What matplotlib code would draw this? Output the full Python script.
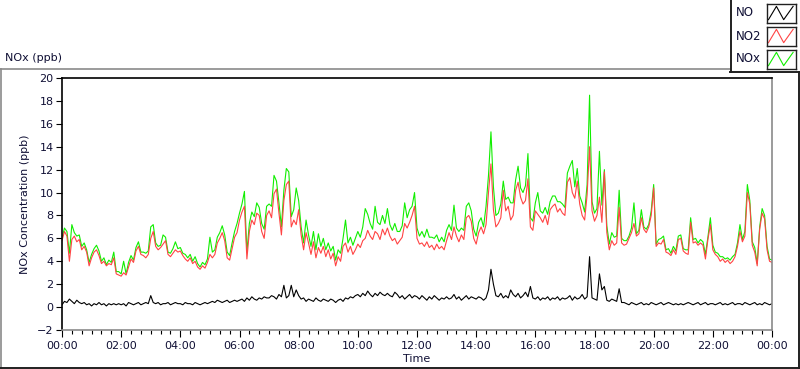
import matplotlib
matplotlib.use("Agg")
import matplotlib.pyplot as plt
from matplotlib.lines import Line2D
from matplotlib.patches import Rectangle
import numpy as np

# ---------------- data (5-minute readings, 00:00 .. 24:00) ----------------
no2 = [
    5.8,6.6,6.2,4.0,5.9,6.2,5.7,5.9,5.0,5.3,4.8,3.6,
    4.3,4.8,5.0,4.5,3.8,4.0,3.6,3.8,3.7,4.3,2.9,2.8,
    2.7,3.0,2.8,3.5,4.2,3.9,4.9,5.3,4.6,4.5,4.3,4.6,
    6.0,6.6,5.3,5.0,5.2,5.5,5.8,4.6,4.4,4.7,5.0,4.8,
    4.9,4.5,4.2,4.0,4.3,3.8,4.0,3.5,3.3,3.6,3.4,3.9,
    4.6,4.3,4.6,5.6,6.0,6.5,5.8,4.3,4.1,5.1,6.1,6.5,
    7.6,8.3,8.8,4.2,6.6,7.6,7.2,8.2,8.0,6.6,6.0,8.0,
    8.4,7.8,9.9,10.3,8.2,6.3,9.3,10.7,11.0,7.0,7.6,7.2,
    8.5,6.3,5.0,6.5,5.6,4.6,5.7,4.3,5.2,4.7,5.3,4.4,
    5.0,4.2,4.7,3.6,4.4,4.0,5.3,5.6,4.8,5.3,4.6,5.0,
    5.5,5.2,5.8,6.0,6.7,6.2,5.9,6.6,6.4,5.9,6.8,6.3,
    6.9,6.2,5.8,6.0,5.5,5.8,6.1,7.3,6.9,7.4,8.0,8.8,
    6.0,5.5,5.6,5.3,5.7,5.2,5.4,5.0,5.5,5.1,5.3,5.0,
    5.8,6.5,5.9,7.0,6.2,5.7,6.3,5.9,7.8,8.0,7.5,6.0,
    5.5,6.5,7.0,6.4,7.2,10.0,12.5,8.5,7.0,7.3,7.8,10.2,
    8.4,8.8,7.6,8.0,10.2,10.9,9.6,9.0,9.3,11.2,7.0,6.7,
    8.4,8.1,7.8,7.4,8.0,7.2,8.5,8.8,9.0,8.3,8.6,8.2,
    8.0,10.9,11.3,10.0,9.5,11.0,9.0,8.0,7.6,9.8,14.0,8.4,
    7.5,8.0,9.6,7.4,11.8,6.5,5.0,5.8,5.4,5.6,8.7,5.6,
    5.4,5.5,6.0,6.5,7.3,6.2,6.4,7.8,6.8,6.5,7.0,8.0,
    10.4,5.3,5.6,5.5,5.9,4.8,4.7,4.5,5.0,4.6,5.9,6.0,
    4.9,4.7,4.6,7.4,5.6,5.7,5.4,5.6,5.4,4.2,5.9,7.2,
    5.0,4.6,4.4,4.0,4.2,3.9,4.1,3.8,4.0,4.4,5.3,6.6,
    5.7,6.2,10.0,9.0,5.4,4.8,3.6,6.8,8.2,7.7,5.0,4.0,
    3.9,
]
nox = [
    6.0,6.9,6.6,4.7,7.2,6.5,6.2,6.3,5.3,5.6,5.0,3.9,
    4.6,5.1,5.4,4.9,4.0,4.3,3.7,4.1,3.9,4.8,3.1,3.1,
    2.9,4.0,2.9,3.9,4.5,4.1,5.2,5.7,4.8,4.8,4.7,4.9,
    7.0,7.2,5.6,5.3,5.4,6.3,6.1,4.8,4.7,5.1,5.7,5.1,
    5.2,4.7,4.6,4.3,4.6,4.0,4.4,3.8,3.5,3.9,3.7,4.2,
    6.1,4.8,5.0,6.1,6.5,7.1,6.3,4.8,4.5,5.6,6.6,7.3,
    8.2,9.0,10.1,4.8,7.3,8.3,7.9,9.1,8.7,7.3,6.8,8.8,
    9.0,8.8,11.5,11.0,9.1,7.0,10.2,12.1,11.8,7.9,8.5,10.4,
    9.3,7.0,5.6,7.6,6.3,5.3,6.6,5.0,6.4,5.3,6.0,5.0,
    5.6,4.9,5.3,4.1,5.0,4.7,6.0,7.6,5.6,6.1,5.4,6.0,
    6.6,6.1,7.0,8.6,8.1,7.3,6.8,8.8,7.4,7.2,8.0,7.3,
    8.6,7.2,6.7,7.3,6.6,6.6,7.1,9.1,7.8,8.5,8.8,10.0,
    6.9,6.2,6.6,6.1,6.8,6.1,6.1,6.0,6.3,5.7,6.1,5.7,
    6.7,7.2,6.7,8.9,6.9,6.6,6.9,6.7,8.8,9.1,8.4,6.8,
    6.2,7.4,7.8,7.0,8.8,11.5,15.3,10.5,8.0,8.2,9.0,11.0,
    9.4,9.6,9.1,9.1,11.1,12.3,10.4,10.0,10.6,13.4,7.8,7.5,
    9.1,10.0,8.4,8.2,8.7,8.1,9.2,9.7,9.7,9.2,9.2,9.0,
    8.7,11.7,12.3,12.8,10.5,12.1,9.7,9.1,8.3,10.7,18.5,9.2,
    8.2,8.6,13.6,8.9,12.0,7.1,5.5,6.5,6.1,6.2,10.2,6.0,
    5.8,5.8,6.2,6.9,9.1,6.4,6.7,8.5,7.0,6.8,7.2,8.4,
    10.7,5.5,5.9,6.0,6.2,5.0,5.1,4.7,5.3,4.9,6.2,6.3,
    5.1,5.0,5.0,7.8,5.9,6.0,5.6,5.9,5.7,4.6,6.1,7.8,
    5.4,4.8,4.7,4.4,4.4,4.2,4.3,4.1,4.4,4.6,5.6,7.2,
    5.9,6.6,10.7,9.3,5.7,5.2,3.8,7.0,8.6,8.0,5.3,4.2,
    4.1,
]
no = [
    0.2,0.5,0.4,0.7,0.5,0.3,0.6,0.4,0.3,0.4,0.2,0.3,
    0.1,0.3,0.2,0.4,0.2,0.3,0.1,0.3,0.2,0.3,0.2,0.3,
    0.2,0.3,0.1,0.4,0.3,0.2,0.3,0.4,0.2,0.3,0.4,0.3,
    1.0,0.4,0.3,0.4,0.2,0.3,0.3,0.4,0.2,0.3,0.4,0.3,
    0.3,0.2,0.4,0.3,0.3,0.2,0.4,0.3,0.2,0.3,0.4,0.3,
    0.4,0.5,0.4,0.6,0.5,0.4,0.5,0.6,0.4,0.5,0.6,0.5,
    0.6,0.7,0.5,0.8,0.6,0.9,0.7,0.6,0.8,0.7,0.9,0.8,
    0.8,1.0,0.9,0.7,1.1,0.9,1.9,0.8,1.0,1.9,0.9,1.5,
    1.0,0.7,0.8,0.5,0.7,0.6,0.5,0.8,0.6,0.5,0.7,0.6,
    0.5,0.7,0.6,0.4,0.6,0.7,0.5,0.8,0.7,0.9,0.8,1.0,
    1.1,0.9,1.2,1.0,1.4,1.1,0.9,1.2,1.0,1.3,1.1,1.0,
    1.2,1.0,0.9,1.3,1.1,0.8,1.0,0.7,0.9,1.1,0.8,1.0,
    0.9,0.7,1.0,0.8,0.6,0.9,0.7,1.0,0.8,0.6,0.8,0.7,
    0.9,0.7,0.8,1.1,0.7,0.9,0.6,0.8,1.0,0.7,0.9,0.8,
    0.7,0.9,0.8,0.6,0.8,1.5,3.3,2.0,1.0,0.9,1.2,0.8,
    1.0,0.8,1.5,1.1,0.9,1.2,0.8,1.0,1.3,0.9,1.8,0.8,
    0.7,0.9,0.6,0.8,0.7,0.9,0.6,0.8,0.7,0.9,0.6,0.8,
    0.7,0.8,1.0,0.6,0.9,0.7,0.8,1.1,0.7,0.9,4.4,0.8,
    0.7,0.6,2.9,1.5,1.8,0.6,0.5,0.7,0.6,0.5,1.6,0.4,
    0.4,0.3,0.2,0.4,0.3,0.2,0.3,0.4,0.2,0.3,0.2,0.4,
    0.3,0.2,0.3,0.4,0.2,0.3,0.4,0.3,0.2,0.3,0.2,0.3,
    0.2,0.3,0.4,0.3,0.2,0.3,0.4,0.2,0.3,0.4,0.2,0.3,
    0.3,0.2,0.3,0.4,0.2,0.3,0.2,0.3,0.4,0.2,0.3,0.3,
    0.2,0.4,0.3,0.2,0.3,0.4,0.2,0.3,0.2,0.4,0.3,0.2,
    0.3,
]
step_minutes = 5
x_tick_labels = ["00:00", "02:00", "04:00", "06:00", "08:00", "10:00", "12:00",
                 "14:00", "16:00", "18:00", "20:00", "22:00", "00:00"]
y_ticks = [-2, 0, 2, 4, 6, 8, 10, 12, 14, 16, 18, 20]
legend_names = ["NO", "NO2", "NOx"]

# ---------------- styling ----------------
W, H = 800, 369
C_NO, C_NO2, C_NOX = "#000000", "#ff4444", "#11ee00"
TXT = "#101035"
FS = 8
plt.rcParams['font.family'] = ['DejaVu Sans']

fig = plt.figure(figsize=(W / 100, H / 100), dpi=100)
fig.patch.set_facecolor("white")

def fx(x):
    return x / W

def fy(y):
    return 1 - y / H

ax = fig.add_axes([fx(62), fy(330), fx(772) - fx(62), fy(78) - fy(330)])
t = np.arange(len(no2)) * step_minutes
ax.plot(t, nox, color=C_NOX, lw=0.8)
ax.plot(t, no2, color=C_NO2, lw=0.8)
ax.plot(np.arange(len(no)) * step_minutes, no, color=C_NO, lw=0.8)

ax.set_xlim(0, 1440)
ax.set_ylim(-2, 20)
ax.set_xticks(np.arange(0, 1441, 120))
ax.set_xticklabels(x_tick_labels)
ax.set_xticks(np.arange(0, 1441, 20), minor=True)
ax.set_yticks(y_ticks)
ax.tick_params(axis='both', direction='out', labelsize=FS, colors='black', labelcolor=TXT, width=0.8)
ax.tick_params(axis='x', which='major', length=5, pad=3)
ax.tick_params(axis='x', which='minor', length=3, width=0.8)
ax.tick_params(axis='y', which='major', length=4, pad=2)
for s in ('left', 'top'):
    ax.spines[s].set_color('black')
    ax.spines[s].set_linewidth(1.2)
for s in ('right', 'bottom'):
    ax.spines[s].set_color('#8a8a8a')
    ax.spines[s].set_linewidth(1.2)

ax.set_ylabel("NOx Concentration (ppb)", fontsize=FS, color=TXT, labelpad=5)
ax.set_xlabel("Time", fontsize=FS, color=TXT, labelpad=2)

# panel frame
def hline(x0, x1, y, color, lw=1.0):
    fig.add_artist(Line2D([fx(x0), fx(x1)], [fy(y), fy(y)], color=color, lw=lw,
                          transform=fig.transFigure))

def vline(x, y0, y1, color, lw=1.0):
    fig.add_artist(Line2D([fx(x), fx(x)], [fy(y0), fy(y1)], color=color, lw=lw,
                          transform=fig.transFigure))

hline(0, 730, 68.5, '#8a8a8a', 1.2)
vline(0.7, 68.5, 369, '#8a8a8a', 1.2)
hline(0, 800, 367.5, '#202020', 1.4)
vline(798.5, 71.5, 369, '#202020', 1.4)

fig.text(fx(5), fy(58), "NOx (ppb)", fontsize=FS, color=TXT, va='center', ha='left')

# legend box
hline(730, 800, 71.5, '#202020', 1.4)
vline(730.5, 0, 71.5, '#202020', 1.4)
colors = [C_NO, C_NO2, C_NOX]
centers = [13, 36, 59]
for name, c, yc in zip(legend_names, colors, centers):
    fig.text(fx(736), fy(yc), name, fontsize=FS + 0.5, color=TXT, va='center', ha='left')
    bx = fig.add_axes([fx(767), fy(yc + 9.5), fx(796) - fx(767), fy(yc - 9.5) - fy(yc + 9.5)])
    bx.set_xlim(0, 4)
    bx.set_ylim(0, 1)
    bx.plot([0.2, 1.3, 2.3, 3.6], [0.15, 0.85, 0.15, 0.85], color=c, lw=0.8)
    bx.set_xticks([])
    bx.set_yticks([])
    for s in bx.spines.values():
        s.set_color('#202020')
        s.set_linewidth(1.0)

fig.savefig("out.png", dpi=100)
